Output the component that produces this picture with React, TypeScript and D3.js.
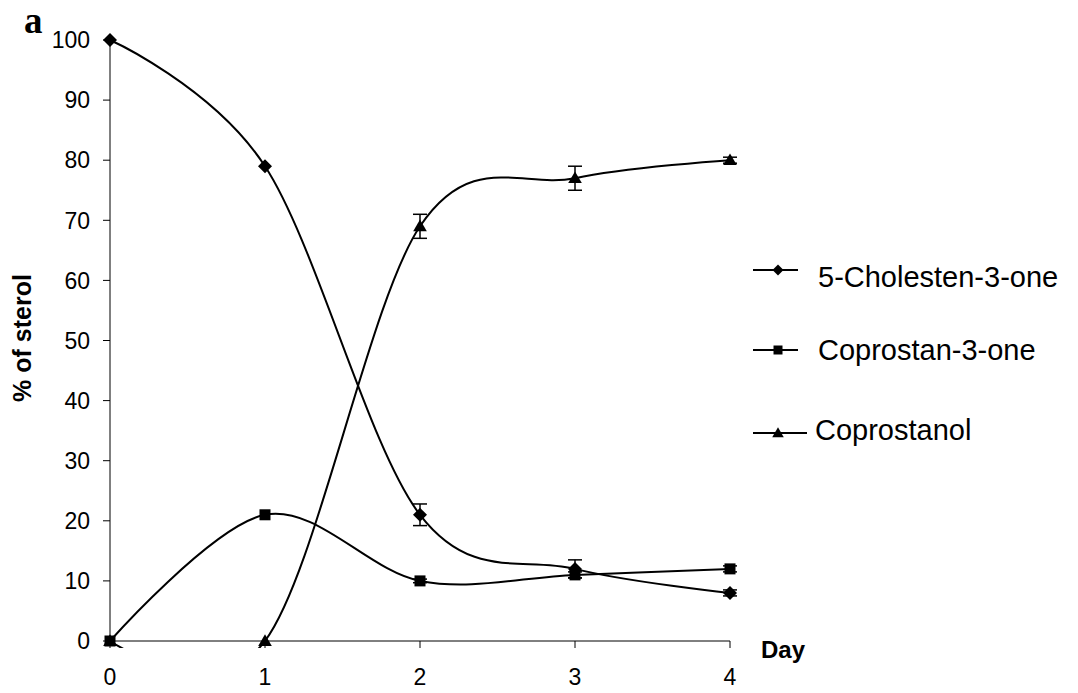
import React from "react";
import * as d3 from "d3";

const days = [0, 1, 2, 3, 4];
const cholestenone = [100, 79, 21, 12, 8];
const cholestenoneErr = [0, 0, 1.8, 1.5, 0.5];
const coprostanone = [0, 21, 10, 11, 12];
const coprostanoneErr = [0, 0, 0.3, 0.5, 0.5];
const coprostanol = [0, 0, 69, 77, 80];
const coprostanolErr = [0, 0, 2, 2, 0.5];
const yTicks = [0, 10, 20, 30, 40, 50, 60, 70, 80, 90, 100];
const seriesNames = ["5-Cholesten-3-one", "Coprostan-3-one", "Coprostanol"];

type Marker = "diamond" | "square" | "triangle";

const W = 1078;
const H = 693;

function markerPath(type: Marker, s: number): string {
  if (type === "diamond") return `M0,${-s}L${s},0L0,${s}L${-s},0Z`;
  if (type === "square") return `M${-s},${-s}H${s}V${s}H${-s}Z`;
  return `M0,${-s * 1.05}L${s * 1.05},${s * 0.75}L${-s * 1.05},${s * 0.75}Z`;
}

export default function App() {
  const x = d3.scaleLinear().domain([0, 4]).range([110, 730]);
  const y = d3.scaleLinear().domain([0, 100]).range([641, 40]);
  const line = d3
    .line<number>()
    .x((_, i) => x(days[i]))
    .y((d) => y(d))
    .curve(d3.curveCardinal.tension(0));

  const series: { name: string; values: number[]; err: number[]; marker: Marker; size: number }[] = [
    { name: seriesNames[0], values: cholestenone, err: cholestenoneErr, marker: "diamond", size: 7 },
    { name: seriesNames[1], values: coprostanone, err: coprostanoneErr, marker: "square", size: 5.5 },
    { name: seriesNames[2], values: coprostanol, err: coprostanolErr, marker: "triangle", size: 6.5 },
  ];

  const legendLineY = [270, 350, 433];
  const legendTextY = [287, 360, 440];
  const legendLineX2 = [798, 798, 807];
  const legendTextX = [818, 818, 815];
  const legendMarkerSize = [5.5, 4.5, 5.5];

  const font = "'Liberation Sans', Arial, sans-serif";

  return (
    <div style={{ position: "absolute", left: 0, top: 0 }}>
      <svg width={W} height={H} style={{ display: "block", background: "#fff" }}>
        <defs>
          <clipPath id="plotClip">
            <rect x={100} y={0} width={650} height={648} />
          </clipPath>
        </defs>
        {/* axes */}
        <line x1={x(0)} x2={x(0)} y1={y(100)} y2={y(0)} stroke="#000" strokeWidth={1} />
        <line x1={x(0)} x2={x(4)} y1={y(0)} y2={y(0)} stroke="#000" strokeWidth={1} />
        {yTicks.map((t) => (
          <g key={"y" + t}>
            <line x1={x(0) - 7} x2={x(0)} y1={y(t)} y2={y(t)} stroke="#000" strokeWidth={1} />
            <text
              x={90}
              y={y(t)}
              dy="0.36em"
              textAnchor="end"
              fontFamily={font}
              fontSize={23}
              fill="#000"
            >
              {t}
            </text>
          </g>
        ))}
        {days.map((d) => (
          <g key={"x" + d}>
            <line x1={x(d)} x2={x(d)} y1={y(0)} y2={y(0) + 7} stroke="#000" strokeWidth={1} />
            <text x={x(d)} y={685} textAnchor="middle" fontFamily={font} fontSize={23} fill="#000">
              {d}
            </text>
          </g>
        ))}
        <text x={761} y={658} fontFamily={font} fontSize={24} fontWeight="bold" fill="#000">
          Day
        </text>
        <text
          transform="translate(31,338) rotate(-90)"
          textAnchor="middle"
          fontFamily={font}
          fontSize={25}
          fontWeight="bold"
          fill="#000"
        >
          % of sterol
        </text>
        <text x={24} y={33} fontFamily="'Liberation Serif', 'Times New Roman', serif" fontSize={37} fontWeight="bold" fill="#000">
          a
        </text>

        {/* series lines */}
        <g clipPath="url(#plotClip)">
          {series.map((s) => (
            <path key={s.name} d={line(s.values) || ""} fill="none" stroke="#000" strokeWidth={2} />
          ))}
        </g>
        {/* error bars */}
        {series.map((s) =>
          s.values.map((v, i) =>
            s.err[i] > 0 ? (
              <g key={s.name + "e" + i} stroke="#000" strokeWidth={1.5}>
                <line x1={x(days[i])} x2={x(days[i])} y1={y(v + s.err[i])} y2={y(v - s.err[i])} />
                <line x1={x(days[i]) - 7} x2={x(days[i]) + 7} y1={y(v + s.err[i])} y2={y(v + s.err[i])} />
                <line x1={x(days[i]) - 7} x2={x(days[i]) + 7} y1={y(v - s.err[i])} y2={y(v - s.err[i])} />
              </g>
            ) : null
          )
        )}
        {/* markers */}
        {series.map((s) =>
          s.values.map((v, i) => (
            <path
              key={s.name + "m" + i}
              d={markerPath(s.marker, s.size)}
              transform={`translate(${x(days[i])},${y(v)})`}
              fill="#000"
            />
          ))
        )}

        {/* legend */}
        {series.map((s, i) => (
          <g key={"leg" + i}>
            <line x1={753} x2={legendLineX2[i]} y1={legendLineY[i]} y2={legendLineY[i]} stroke="#000" strokeWidth={1.8} />
            <path
              d={markerPath(s.marker, legendMarkerSize[i])}
              transform={`translate(${778},${legendLineY[i]})`}
              fill="#000"
            />
            <text x={legendTextX[i]} y={legendTextY[i]} fontFamily={font} fontSize={29} fill="#000">
              {s.name}
            </text>
          </g>
        ))}
      </svg>
    </div>
  );
}
